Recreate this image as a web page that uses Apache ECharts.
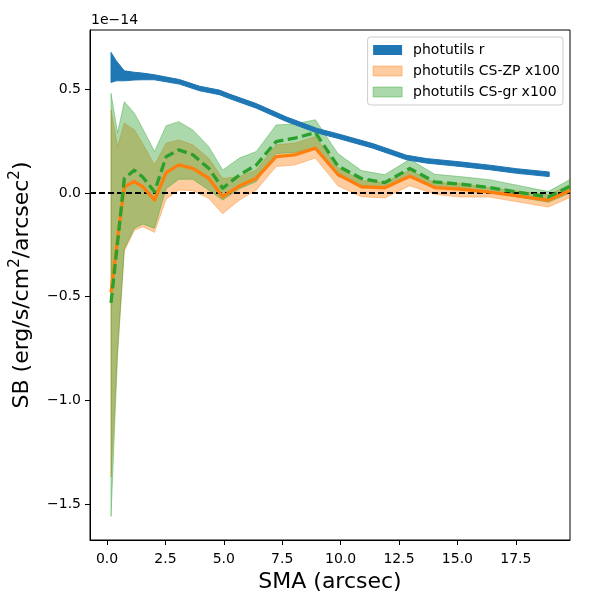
<!DOCTYPE html>
<html>
<head>
<meta charset="utf-8">
<title>SB profile</title>
<script src="https://cdn.jsdelivr.net/npm/echarts@6.0.0/dist/echarts.min.js"></script>
<style>
  html, body { margin: 0; padding: 0; background: #fff; }
  #main { width: 600px; height: 600px; }
</style>
</head>
<body>
<div id="main"></div>
<script type="text/javascript">
// values in units of 1e-14 erg/s/cm2/arcsec2
var sma = [0.17, 0.45, 0.74, 1.17, 1.53, 2.03, 2.53, 3.07, 3.67, 4.35, 4.95, 5.67, 6.39, 7.24, 8.03, 8.92, 9.88, 10.89, 11.89, 12.96, 14.03, 15.1, 16.38, 18.89, 19.82];

var zpMid  = [-0.48, -0.22, 0.03, 0.055, 0.03, -0.034, 0.098, 0.135, 0.119, 0.071, -0.018, 0.034, 0.071, 0.175, 0.184, 0.216, 0.09, 0.03, 0.025, 0.08, 0.026, 0.019, 0.004, -0.035, 0.012];
var zpLow  = [-1.37, -0.76, -0.28, -0.18, -0.163, -0.19, -0.03, 0.014, 0.011, -0.026, -0.1, -0.034, 0.014, 0.127, 0.135, 0.168, 0.035, -0.018, -0.024, 0.035, -0.006, -0.02, -0.02, -0.068, -0.022];
var zpHigh = [0.40, 0.224, 0.337, 0.304, 0.237, 0.135, 0.24, 0.256, 0.232, 0.167, 0.07, 0.079, 0.111, 0.232, 0.24, 0.272, 0.123, 0.06, 0.05, 0.11, 0.05, 0.045, 0.025, -0.01, 0.04];

var grMid  = [-0.53, -0.24, 0.07, 0.11, 0.076, 0.006, 0.175, 0.208, 0.184, 0.119, 0.023, 0.087, 0.135, 0.248, 0.264, 0.291, 0.13, 0.07, 0.05, 0.118, 0.053, 0.043, 0.026, -0.02, 0.032];
var grLow  = [-1.56, -0.78, -0.27, -0.17, -0.15, -0.17, 0.02, 0.066, 0.066, 0.014, -0.034, 0.02, 0.055, 0.19, 0.195, 0.22, 0.08, 0.035, 0.025, 0.08, 0.025, 0.015, 0.005, -0.045, 0.0];
var grHigh = [0.48, 0.29, 0.44, 0.385, 0.31, 0.2, 0.324, 0.344, 0.304, 0.224, 0.111, 0.168, 0.2, 0.328, 0.333, 0.353, 0.19, 0.108, 0.088, 0.162, 0.09, 0.079, 0.064, 0.007, 0.065];

var rSma  = [0.17, 0.39, 0.74, 1.17, 1.53, 2.03, 3.1, 3.96, 4.81, 5.24, 6.39, 7.67, 9.0, 9.86, 11.38, 12.82, 13.67, 15.1, 16.38, 17.53, 18.93];
var rLow  = [0.533, 0.541, 0.541, 0.545, 0.546, 0.546, 0.525, 0.493, 0.474, 0.455, 0.409, 0.345, 0.289, 0.264, 0.216, 0.16, 0.144, 0.128, 0.112, 0.095, 0.079];
var rHigh = [0.678, 0.638, 0.589, 0.582, 0.578, 0.570, 0.547, 0.515, 0.496, 0.477, 0.431, 0.367, 0.311, 0.286, 0.238, 0.182, 0.166, 0.15, 0.134, 0.117, 0.101];

var xTicks = [0, 2.5, 5, 7.5, 10, 12.5, 15, 17.5];
var yTicks = [-1.5, -1.0, -0.5, 0, 0.5];

var FONT = 'DejaVu Sans';
var BLUE = '#1f77b4', ORANGE = '#ff7f0e', GREEN = '#2ca02c';

function pairs(xs, ys) {
  var out = [];
  for (var i = 0; i < xs.length; i++) out.push([xs[i], ys[i]]);
  return out;
}

// polygon between low and high curves, through the axis scales
function band(xs, lo, hi, fill, stroke) {
  return function (params, api) {
    var pts = [];
    for (var i = 0; i < xs.length; i++) pts.push(api.coord([xs[i], hi[i]]));
    for (var j = xs.length - 1; j >= 0; j--) pts.push(api.coord([xs[j], lo[j]]));
    return {
      type: 'polygon',
      shape: { points: pts },
      style: { fill: fill, stroke: stroke, lineWidth: 1 }
    };
  };
}

function fmt(v) {
  return v.toFixed(1).replace('-', '\u2212');
}

var myChart = echarts.init(document.getElementById('main'));

var option = {
  animation: false,
  backgroundColor: '#fff',
  textStyle: { fontFamily: FONT },
  grid: {
    left: 90, right: 30, top: 30, bottom: 60,
    show: true, borderColor: '#000', borderWidth: 1, backgroundColor: 'transparent'
  },
  legend: {
    orient: 'vertical',
    right: 37, top: 37,
    padding: [6, 3, 6, 5],
    itemWidth: 29, itemHeight: 10, itemGap: 7,
    icon: 'rect',
    backgroundColor: 'rgba(255,255,255,0.8)',
    borderColor: '#cccccc', borderWidth: 1, borderRadius: 3,
    textStyle: { fontFamily: FONT, fontSize: 14, color: '#000', lineHeight: 14, padding: [0, 0, 0, 6] },
    data: [
      { name: 'photutils r', itemStyle: { color: BLUE } },
      { name: 'photutils CS-ZP x100', itemStyle: { color: 'rgba(255,127,14,0.4)', borderColor: 'rgba(255,127,14,0.4)', borderWidth: 1 } },
      { name: 'photutils CS-gr x100', itemStyle: { color: 'rgba(44,160,44,0.4)', borderColor: 'rgba(44,160,44,0.4)', borderWidth: 1 } }
    ]
  },
  graphic: [{
    type: 'text', left: 91, top: 13,
    style: { text: '1e\u221214', fontSize: 14, fontFamily: FONT, fill: '#000' }
  }],
  xAxis: {
    type: 'value', min: -0.73, max: 19.82,
    name: 'SMA (arcsec)', nameLocation: 'middle', nameGap: 30,
    nameTextStyle: { fontFamily: FONT, fontSize: 22, color: '#000', verticalAlign: 'top' },
    axisLine: { show: true, onZero: false, lineStyle: { color: '#000', width: 1 } },
    axisTick: { show: true, inside: false, length: 5, customValues: xTicks, lineStyle: { color: '#000' } },
    axisLabel: { customValues: xTicks, formatter: fmt, fontSize: 14, color: '#000', fontFamily: FONT, margin: 12 },
    splitLine: { show: false }
  },
  yAxis: {
    type: 'value', min: -1.674, max: 0.786,
    name: 'SB (erg/s/cm{sup|2}/arcsec{sup|2})', nameLocation: 'middle', nameGap: 53,
    nameTextStyle: {
      fontFamily: FONT, fontSize: 22, color: '#000', lineHeight: 28,
      rich: { sup: { fontFamily: FONT, fontSize: 15, verticalAlign: 'top', lineHeight: 28 } }
    },
    axisLine: { show: true, onZero: false, lineStyle: { color: '#000', width: 1 } },
    axisTick: { show: true, inside: false, length: 5, customValues: yTicks, lineStyle: { color: '#000' } },
    axisLabel: { customValues: yTicks, formatter: fmt, fontSize: 14, color: '#000', fontFamily: FONT, margin: 9 },
    splitLine: { show: false }
  },
  series: [
    {
      name: 'photutils CS-ZP x100', type: 'custom', z: 2,
      itemStyle: { color: 'rgba(255,127,14,0.4)' },
      data: [[0, 0]],
      renderItem: band(sma, zpLow, zpHigh, 'rgba(255,127,14,0.4)', 'rgba(255,127,14,0.4)')
    },
    {
      name: 'photutils CS-gr x100', type: 'custom', z: 3,
      itemStyle: { color: 'rgba(44,160,44,0.4)' },
      data: [[0, 0]],
      renderItem: band(sma, grLow, grHigh, 'rgba(44,160,44,0.4)', 'rgba(44,160,44,0.4)')
    },
    {
      name: 'photutils r', type: 'custom', z: 4,
      itemStyle: { color: BLUE },
      data: [[0, 0]],
      renderItem: band(rSma, rLow, rHigh, BLUE, BLUE)
    },
    {
      name: 'zp line', type: 'line', z: 5,
      data: pairs(sma, zpMid),
      showSymbol: false, symbol: 'none',
      lineStyle: { color: ORANGE, width: 3.3, cap: 'butt', join: 'round' }
    },
    {
      name: 'gr line', type: 'line', z: 6,
      data: pairs(sma, grMid),
      showSymbol: false, symbol: 'none',
      lineStyle: { color: GREEN, width: 3.3, type: [10, 4.5], cap: 'butt', join: 'round' },
      markLine: {
        silent: true, symbol: 'none',
        label: { show: false },
        lineStyle: { color: '#000', width: 2, type: [6, 3] },
        data: [{ yAxis: 0 }]
      }
    }
  ]
};

myChart.setOption(option);
</script>
</body>
</html>
